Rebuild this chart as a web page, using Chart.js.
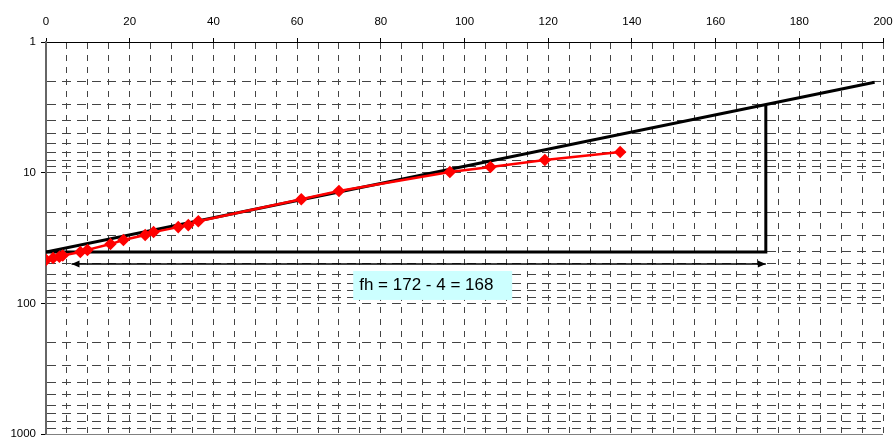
<!DOCTYPE html>
<html>
<head>
<meta charset="utf-8">
<script src="https://cdn.jsdelivr.net/npm/chart.js@4/dist/chart.umd.min.js"></script>
<style>
  html, body { margin: 0; padding: 0; background: #fff; }
  #wrap { width: 893px; height: 441px; }
</style>
</head>
<body>
<div id="wrap"><canvas id="chart"></canvas></div>
<script>
// measured points (x on top axis, y on reversed log axis)
const obsX = [0, 1.7, 3.2, 4, 8.2, 9.9, 15.4, 18.5, 23.7, 25.7, 31.6, 34, 36.4, 61, 70, 96.5, 106.2, 119.2, 137.2];
const obsY = [46.5, 45, 44, 43, 40.5, 39, 35.2, 32.8, 30, 28.5, 26.1, 25.2, 23.5, 16, 13.8, 9.9, 9.05, 8.0, 6.95];

// fitted straight line
const fitX = [0, 198];
const fitY = [40.5, 2.03];

// construction lines: horizontal then vertical at x = 172
const guideX = [0, 172, 172];
const guideY = [40.5, 40.5, 3.0];

// double arrow for fh
const arrowX = [6.1, 172];
const arrowY = [50, 50];

const xTicks = { min: 0, max: 200, step: 5, labelEvery: 20 };
const yGrid = [1, 2, 3, 4, 5, 6, 7, 8, 9, 10, 20, 30, 40, 50, 60, 70, 80, 90,
               100, 200, 300, 400, 500, 600, 700, 800, 900, 1000];
const yLabels = [1, 10, 100, 1000];
const noteText = 'fh = 172 - 4 = 168';

const pts = (xs, ys) => xs.map((x, i) => ({ x: x, y: ys[i] }));

// arrowheads + note box + bottom frame
const extras = {
    id: 'extras',
    afterDatasetsDraw(chart) {
        const ctx = chart.ctx;
        const area = chart.chartArea;
        const xs = chart.scales.x, ys = chart.scales.y;

        ctx.save();
        ctx.strokeStyle = '#808080';
        ctx.lineWidth = 1;
        ctx.beginPath();
        ctx.moveTo(area.left, area.bottom + 0.5);
        ctx.lineTo(area.right, area.bottom + 0.5);
        ctx.stroke();

        const meta = chart.getDatasetMeta(3);
        const a = meta.data[0], b = meta.data[meta.data.length - 1];
        ctx.fillStyle = '#000';
        [[a, -1], [b, 1]].forEach(([p, dir]) => {
            ctx.beginPath();
            ctx.moveTo(p.x, p.y);
            ctx.lineTo(p.x - dir * 8, p.y - 3.5);
            ctx.lineTo(p.x - dir * 8, p.y + 3.5);
            ctx.closePath();
            ctx.fill();
        });

        const bx = xs.getPixelForValue(73.4);
        const by = ys.getPixelForValue(56.5);
        ctx.fillStyle = '#CCFFFF';
        ctx.fillRect(bx, by, 159, 29);
        ctx.fillStyle = '#000';
        ctx.font = '17px Arial, "Liberation Sans", sans-serif';
        ctx.textBaseline = 'alphabetic';
        ctx.fillText(noteText, bx + 6, by + 19);
        ctx.restore();
    }
};

new Chart(document.getElementById('chart'), {
    type: 'scatter',
    data: {
        datasets: [
            {
                data: pts(obsX, obsY),
                showLine: true,
                borderColor: '#FF0000',
                backgroundColor: '#FF0000',
                borderWidth: 2.5,
                pointStyle: 'rectRot',
                pointRadius: 4.5,
                pointHoverRadius: 4.5
            },
            {
                data: pts(fitX, fitY),
                showLine: true,
                borderColor: '#000',
                borderWidth: 3,
                pointRadius: 0
            },
            {
                data: pts(guideX, guideY),
                showLine: true,
                borderColor: '#000',
                borderWidth: 3,
                pointRadius: 0
            },
            {
                data: pts(arrowX, arrowY),
                showLine: true,
                borderColor: '#000',
                borderWidth: 1.5,
                pointRadius: 0
            }
        ]
    },
    options: {
        responsive: true,
        maintainAspectRatio: false,
        animation: false,
        layout: { padding: { left: 0, right: 0, top: 0, bottom: 0 } },
        plugins: { legend: { display: false }, tooltip: { enabled: false } },
        scales: {
            x: {
                type: 'linear',
                position: 'top',
                min: xTicks.min,
                max: xTicks.max,
                afterFit: (s) => { s.height = 42; s.paddingLeft = 0; s.paddingRight = 10; },
                ticks: {
                    stepSize: xTicks.step,
                    autoSkip: false,
                    maxRotation: 0,
                    padding: 9,
                    color: '#000',
                    font: { family: 'Arial, "Liberation Sans", sans-serif', size: 11.5 },
                    callback: (v) => (v % xTicks.labelEvery === 0 ? v : '')
                },
                grid: {
                    color: '#444',
                    lineWidth: 1,
                    tickLength: 4,
                    tickColor: (c) => (c.tick && c.tick.value % xTicks.labelEvery === 0 ? '#000' : 'rgba(0,0,0,0)')
                },
                border: { display: true, color: '#000', width: 1, dash: [6, 6] }
            },
            y: {
                type: 'logarithmic',
                position: 'left',
                reverse: true,
                min: 1,
                max: 1000,
                afterFit: (s) => { s.width = 46; s.paddingTop = 0; s.paddingBottom = 5; },
                afterBuildTicks: (s) => { s.ticks = yGrid.map(v => ({ value: v, major: yLabels.includes(v) })); },
                ticks: {
                    autoSkip: false,
                    padding: 5,
                    color: '#000',
                    font: { family: 'Arial, "Liberation Sans", sans-serif', size: 11.5 },
                    callback: (v) => (yLabels.includes(v) ? String(v) : '')
                },
                grid: {
                    color: '#444',
                    lineWidth: 1,
                    tickLength: 5,
                    tickColor: (c) => (c.tick && yLabels.includes(c.tick.value) ? '#000' : 'rgba(0,0,0,0)')
                },
                border: { display: true, color: '#666', width: 2, dash: [9, 6] }
            }
        }
    },
    plugins: [extras]
});
</script>
</body>
</html>
